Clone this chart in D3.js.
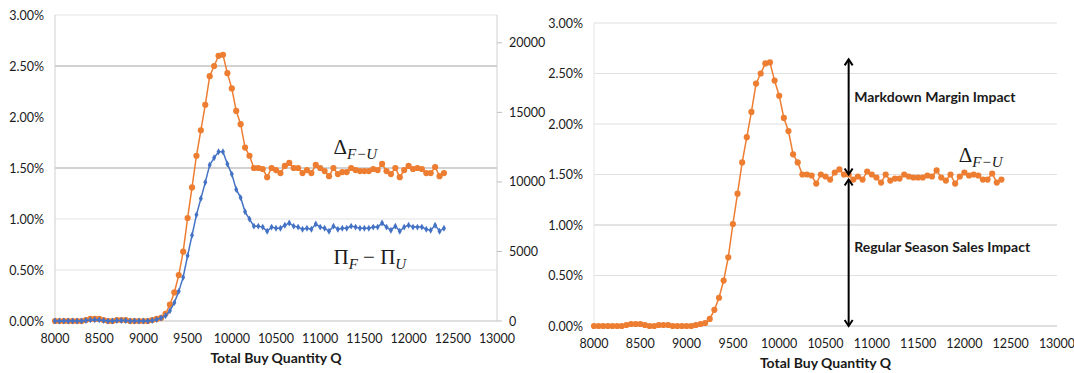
<!DOCTYPE html>
<html>
<head>
<meta charset="utf-8">
<script src="https://cdn.jsdelivr.net/npm/d3@7"></script>
<style>
    body { margin: 0; background: #fff; }
    svg text { font-family: Lato, "Open Sans", sans-serif; fill: #1a1a1a; }
    .math text, text.math { font-family: "Liberation Serif", serif; }
</style>
</head>
<body>
<div id="chart"></div>
<script>
// Total buy quantity (x values)
var qty = [8000, 8050, 8100, 8150, 8200, 8250, 8300, 8350, 8400, 8450,
    8500, 8550, 8600, 8650, 8700, 8750, 8800, 8850, 8900, 8950,
    9000, 9050, 9100, 9150, 9200, 9250, 9300, 9350, 9400, 9450,
    9500, 9550, 9600, 9650, 9700, 9750, 9800, 9850, 9900, 9950,
    10000, 10050, 10100, 10150, 10200, 10250, 10300, 10350, 10400, 10450,
    10500, 10550, 10600, 10650, 10700, 10750, 10800, 10850, 10900, 10950,
    11000, 11050, 11100, 11150, 11200, 11250, 11300, 11350, 11400, 11450,
    11500, 11550, 11600, 11650, 11700, 11750, 11800, 11850, 11900, 11950,
    12000, 12050, 12100, 12150, 12200, 12250, 12300, 12350, 12400];

// Delta F-U, in percent (left axis)
var deltaPct = [0.00, 0.00, 0.00, 0.00, 0.00, 0.00, 0.00, 0.01, 0.02, 0.02,
    0.02, 0.01, 0.00, 0.00, 0.01, 0.01, 0.01, 0.00, 0.00, 0.00,
    0.00, 0.00, 0.01, 0.02, 0.03, 0.07, 0.16, 0.28, 0.45, 0.68,
    1.01, 1.31, 1.62, 1.87, 2.12, 2.40, 2.50, 2.60, 2.61, 2.43,
    2.28, 2.06, 1.93, 1.70, 1.62, 1.50, 1.50, 1.49, 1.41, 1.50,
    1.48, 1.45, 1.52, 1.55, 1.50, 1.50, 1.45, 1.48, 1.45, 1.53,
    1.50, 1.47, 1.42, 1.50, 1.44, 1.46, 1.46, 1.50, 1.48, 1.47,
    1.47, 1.47, 1.49, 1.48, 1.54, 1.47, 1.44, 1.50, 1.41, 1.48,
    1.52, 1.49, 1.50, 1.49, 1.45, 1.45, 1.51, 1.42, 1.45];

// Pi_F - Pi_U (right axis)
var profitDiff = [0, 0, 0, 0, 0, 0, 0, 40, 80, 90,
    80, 40, 0, 0, 40, 40, 30, 0, 0, 0,
    0, 0, 30, 100, 220, 370, 730, 1320, 2130, 3150,
    4690, 6160, 7630, 8800, 9970, 11220, 11730, 12170, 12170, 11290,
    10560, 9460, 8870, 7850, 7330, 6820, 6820, 6750, 6450, 6750,
    6670, 6670, 6890, 7040, 6820, 6750, 6600, 6670, 6600, 6970,
    6750, 6670, 6450, 6820, 6600, 6670, 6670, 6820, 6750, 6670,
    6670, 6670, 6750, 6750, 7040, 6750, 6530, 6820, 6450, 6750,
    6890, 6750, 6750, 6750, 6600, 6530, 6890, 6450, 6670];

var xTicks = [8000, 8500, 9000, 9500, 10000, 10500, 11000, 11500, 12000, 12500, 13000];
var pctTicks = [0, 0.5, 1.0, 1.5, 2.0, 2.5, 3.0];
var rightTicks = [0, 5000, 10000, 15000, 20000];

var orange = "#ed7d31";
var blue = "#4472c4";
var fmtPct = function (d) { return d3.format(".2f")(d) + "%"; };

var svg = d3.select("#chart").append("svg")
    .attr("width", 1074)
    .attr("height", 373);

svg.append("rect").attr("width", 1074).attr("height", 373).attr("fill", "#fff");

function drawFrame(g, x, y, gridColor, axisY) {
    var left = x.range()[0], right = x.range()[1];

    // horizontal grid
    g.selectAll(".grid")
        .data(pctTicks.filter(function (d) { return d > 0; }))
        .enter().append("line")
        .attr("x1", left).attr("x2", right)
        .attr("y1", function (d) { return y(d); })
        .attr("y2", function (d) { return y(d); })
        .attr("stroke", gridColor)
        .attr("stroke-width", 1.2);

    // bottom axis line
    g.append("line")
        .attr("x1", left).attr("x2", right)
        .attr("y1", y(0)).attr("y2", y(0))
        .attr("stroke", "#bfbfbf").attr("stroke-width", 1.2);

    // x tick labels
    g.selectAll(".xl")
        .data(xTicks)
        .enter().append("text")
        .attr("x", function (d) { return x(d); })
        .attr("y", y(0) + 22)
        .attr("text-anchor", "middle")
        .attr("font-size", "12.5px")
        .text(function (d) { return d; });

    // y tick labels
    g.selectAll(".yl")
        .data(pctTicks)
        .enter().append("text")
        .attr("x", left - 11)
        .attr("y", function (d) { return y(d) + 4.5; })
        .attr("text-anchor", "end")
        .attr("font-size", "12.5px")
        .text(fmtPct);

    g.append("text")
        .attr("x", (left + right) / 2)
        .attr("y", axisY)
        .attr("text-anchor", "middle")
        .attr("font-size", "14px")
        .attr("font-weight", "bold")
        .text("Total Buy Quantity Q");
}

function drawSeries(g, x, y, values, color, symbol, size) {
    var pts = qty.map(function (q, i) { return [q, values[i]]; });
    var line = d3.line()
        .x(function (d) { return x(d[0]); })
        .y(function (d) { return y(d[1]); });

    g.append("path")
        .datum(pts)
        .attr("fill", "none")
        .attr("stroke", color)
        .attr("stroke-width", 1.5)
        .attr("d", line);

    g.selectAll(".pt")
        .data(pts)
        .enter().append("path")
        .attr("transform", function (d) { return "translate(" + x(d[0]) + "," + y(d[1]) + ")"; })
        .attr("d", d3.symbol().type(symbol).size(size))
        .attr("fill", color);
}

function mathLabel(g, px, py, main, sub) {
    var t = g.append("text")
        .attr("class", "math")
        .attr("x", px).attr("y", py)
        .attr("font-size", "21px");
    main.forEach(function (part, i) {
        t.append("tspan").attr("dy", i === 0 ? 0 : -5).text(part);
        t.append("tspan")
            .attr("dy", 5)
            .attr("font-size", "15px")
            .attr("font-style", "italic")
            .text(sub[i]);
    });
}

// ---------- left chart ----------
var gL = svg.append("g");
var xL = d3.scaleLinear().domain([8000, 13000]).range([55, 497]);
var yL = d3.scaleLinear().domain([0, 3]).range([321, 15]);
var yR = d3.scaleLinear().domain([0, 22000]).range([321, 15]);

drawFrame(gL, xL, yL, "#e3e3e3", 363);
// darker grid lines at 1.5% and 2.5%, none at 2.0%
gL.selectAll("line").filter(function () {
    var v = yL.invert(+d3.select(this).attr("y1"));
    return Math.abs(v - 1.5) < 0.01 || Math.abs(v - 2.5) < 0.01;
}).attr("stroke", "#a6a6a6");
gL.selectAll("line").filter(function () {
    return Math.abs(yL.invert(+d3.select(this).attr("y1")) - 2.0) < 0.01;
}).remove();

gL.append("line").attr("x1", 55).attr("x2", 55).attr("y1", yL(3)).attr("y2", yL(0))
    .attr("stroke", "#d0d0d0");
gL.append("line").attr("x1", 497).attr("x2", 497).attr("y1", yL(3)).attr("y2", yL(0))
    .attr("stroke", "#d0d0d0");

gL.selectAll(".rt")
    .data(rightTicks)
    .enter().append("line")
    .attr("x1", 497).attr("x2", 502)
    .attr("y1", function (d) { return yR(d); })
    .attr("y2", function (d) { return yR(d); })
    .attr("stroke", "#bfbfbf");
gL.selectAll(".rl")
    .data(rightTicks)
    .enter().append("text")
    .attr("x", 509)
    .attr("y", function (d) { return yR(d) + 4.5; })
    .attr("font-size", "12.5px")
    .text(function (d) { return d; });

drawSeries(gL, xL, yL, deltaPct, orange, d3.symbolCircle, 30);
drawSeries(gL, xL, yR, profitDiff, blue, d3.symbolDiamond, 14);

mathLabel(gL, xL(11150), yL(1.64), ["\u0394"], ["F\u2212U"]);
mathLabel(gL, xL(11150), yL(0.56), ["\u03A0", " \u2212 \u03A0"], ["F", "U"]);

// ---------- right chart ----------
var gR = svg.append("g");
var xR = d3.scaleLinear().domain([8000, 13000]).range([594, 1057]);
var yR2 = d3.scaleLinear().domain([0, 3]).range([326, 23]);

drawFrame(gR, xR, yR2, "#e0e0e0", 368);
gR.selectAll("line").filter(function () {
    return Math.abs(yR2.invert(+d3.select(this).attr("y1")) - 1.0) < 0.01;
}).attr("stroke", "#c8c8c8");
gR.append("line").attr("x1", 594).attr("x2", 594).attr("y1", yR2(3)).attr("y2", yR2(0))
    .attr("stroke", "#e6e6e6");

drawSeries(gR, xR, yR2, deltaPct, orange, d3.symbolCircle, 30);

// double-headed arrows
var arrowX = 10750;
var arrows = [[2.64, 1.50], [1.45, 0]];
var ax = xR(arrowX);
arrows.forEach(function (a) {
    var y1 = yR2(a[0]), y2 = yR2(a[1]);
    gR.append("line").attr("x1", ax).attr("x2", ax).attr("y1", y1).attr("y2", y2)
        .attr("stroke", "#000").attr("stroke-width", 2);
    gR.append("path")
        .attr("d", "M" + (ax - 4) + "," + (y1 + 6) + "L" + ax + "," + y1 + "L" + (ax + 4) + "," + (y1 + 6))
        .attr("fill", "none").attr("stroke", "#000").attr("stroke-width", 2);
    gR.append("path")
        .attr("d", "M" + (ax - 4) + "," + (y2 - 6) + "L" + ax + "," + y2 + "L" + (ax + 4) + "," + (y2 - 6))
        .attr("fill", "none").attr("stroke", "#000").attr("stroke-width", 2);
});

gR.append("text")
    .attr("x", xR(10810)).attr("y", yR2(2.27) + 5)
    .attr("font-size", "14px").attr("font-weight", "bold")
    .text("Markdown Margin Impact");
gR.append("text")
    .attr("x", xR(10810)).attr("y", yR2(0.78) + 5)
    .attr("font-size", "14px").attr("font-weight", "bold")
    .text("Regular Season Sales Impact");

mathLabel(gR, xR(11940), yR2(1.62), ["\u0394"], ["F\u2212U"]);
</script>
</body>
</html>
